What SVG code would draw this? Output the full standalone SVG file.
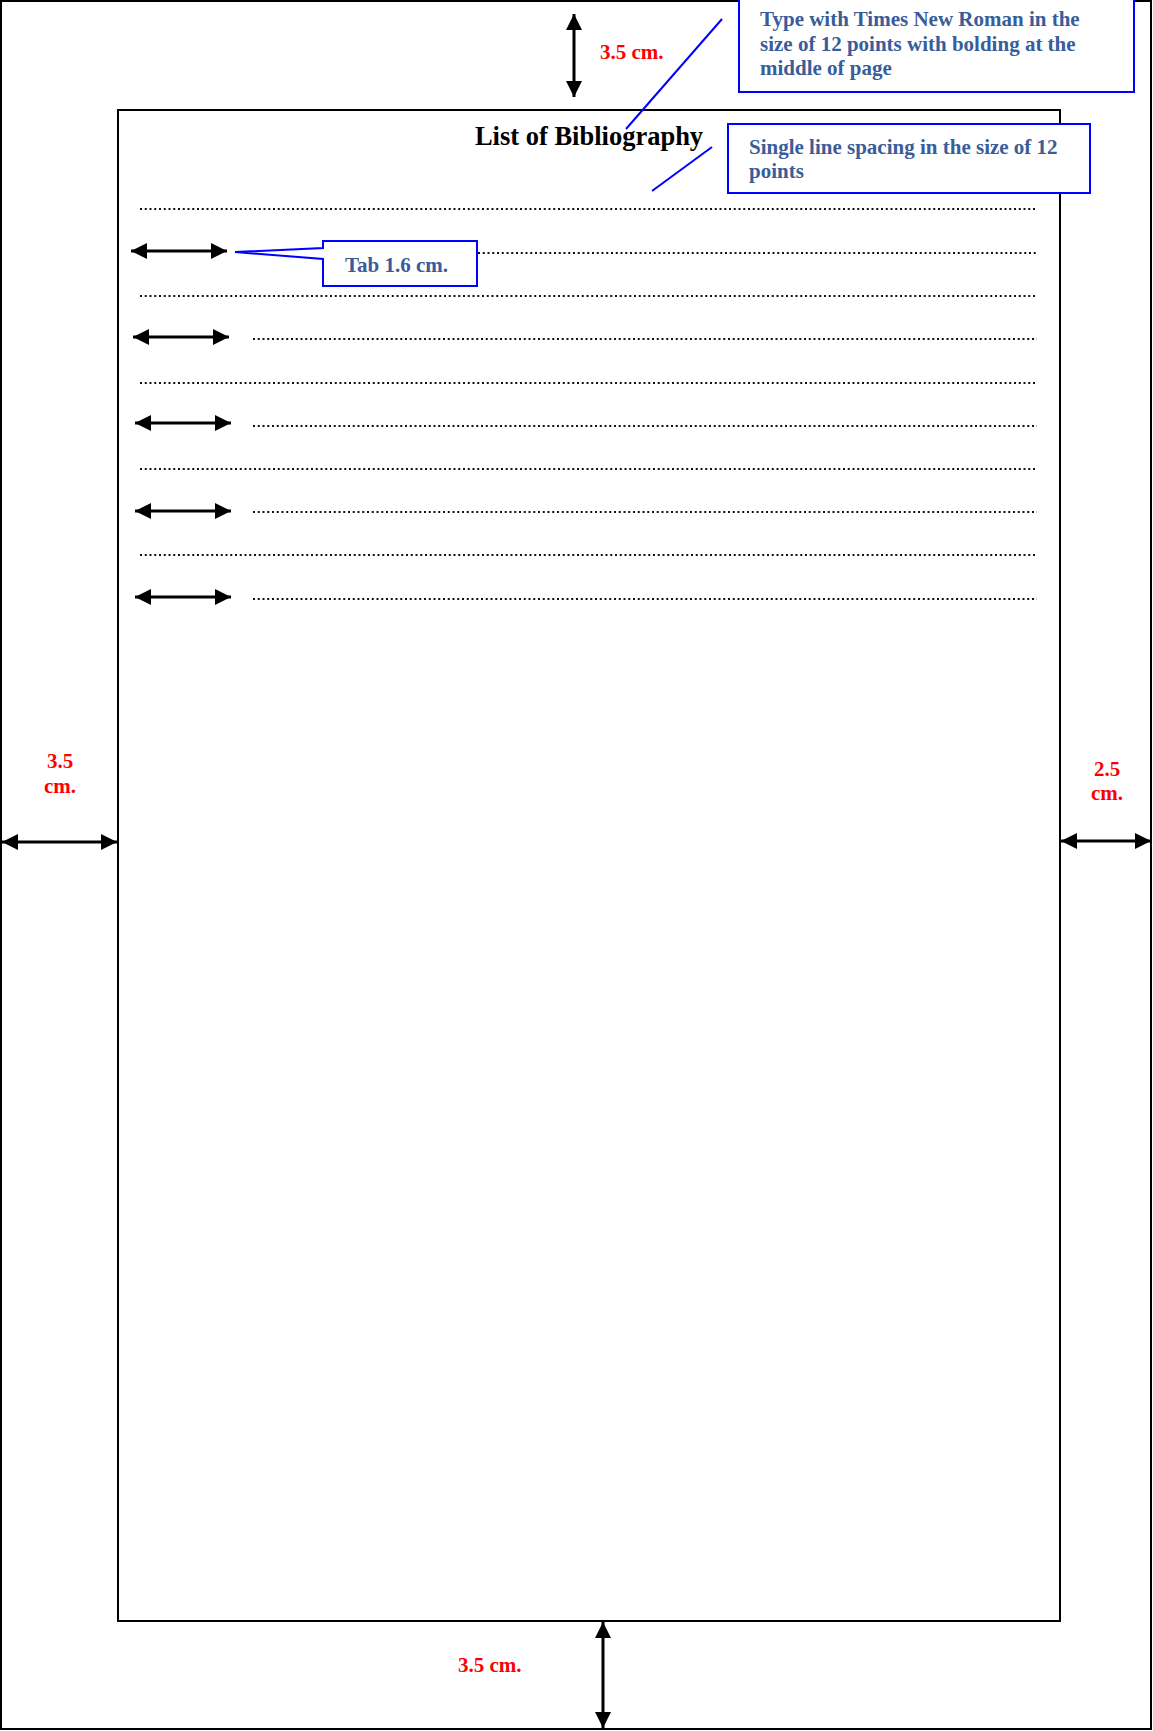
<svg xmlns="http://www.w3.org/2000/svg" width="1153" height="1731" viewBox="0 0 1153 1731">
<style>
.page{fill:none;stroke:#000;stroke-width:2}
.dots{stroke:#111;stroke-width:2.2;stroke-dasharray:2 2.75}
.arr{stroke:#000;stroke-width:3;marker-start:url(#ah);marker-end:url(#ah)}
.note{fill:#fff;stroke:#0000ff;stroke-width:2}
.lead{stroke:#0000ff;stroke-width:2;fill:none}
.nt{font-family:"Liberation Serif","Times New Roman",serif;font-weight:bold;font-size:21px;fill:#385d9a}
.red{font-family:"Liberation Serif","Times New Roman",serif;font-weight:bold;font-size:21px;fill:#ff0000}
.title{font-family:"Liberation Serif","Times New Roman",serif;font-weight:bold;font-size:26.5px;fill:#000}
</style>
<defs>
<marker id="ah" viewBox="0 0 16 16" refX="16" refY="8" markerWidth="16" markerHeight="16" markerUnits="userSpaceOnUse" orient="auto-start-reverse">
<path d="M0,0 L16,8 L0,16 z" fill="#000"/>
</marker>
</defs>
<rect width="1153" height="1731" fill="#fff"/>
<g id="outer-page"><rect class="page" x="1" y="1" width="1150" height="1728"/></g>
<g id="text-area"><rect class="page" x="118" y="110" width="942" height="1511"/></g>
<g id="title"><text class="title" x="589" y="145" text-anchor="middle">List of Bibliography</text></g>
<g id="dotted-lines">
<line class="dots" x1="140" y1="209" x2="1035" y2="209"/>
<line class="dots" x1="478" y1="253" x2="1037" y2="253"/>
<line class="dots" x1="140" y1="296" x2="1035" y2="296"/>
<line class="dots" x1="253" y1="339" x2="1037" y2="339"/>
<line class="dots" x1="140" y1="383" x2="1035" y2="383"/>
<line class="dots" x1="253" y1="426" x2="1037" y2="426"/>
<line class="dots" x1="140" y1="469" x2="1035" y2="469"/>
<line class="dots" x1="253" y1="512" x2="1037" y2="512"/>
<line class="dots" x1="140" y1="555" x2="1035" y2="555"/>
<line class="dots" x1="253" y1="599" x2="1037" y2="599"/>
</g>
<g id="connectors">
<line class="arr" x1="131" y1="251" x2="227" y2="251"/>
<line class="arr" x1="133" y1="337" x2="229" y2="337"/>
<line class="arr" x1="135" y1="423" x2="231" y2="423"/>
<line class="arr" x1="135" y1="511" x2="231" y2="511"/>
<line class="arr" x1="135" y1="597" x2="231" y2="597"/>
<line class="arr" x1="574" y1="14" x2="574" y2="97"/>
<line class="arr" x1="2" y1="842" x2="117" y2="842"/>
<line class="arr" x1="1061" y1="841" x2="1151" y2="841"/>
<line class="arr" x1="603" y1="1622" x2="603" y2="1728"/>
<line class="lead" x1="722" y1="19" x2="626" y2="129"/>
<line class="lead" x1="712" y1="147" x2="652" y2="191"/>
</g>
<g id="note-font">
<rect class="note" x="739" y="-2" width="395" height="94"/>
<text class="nt" x="760" y="26">Type with Times New Roman in the</text>
<text class="nt" x="760" y="51">size of 12 points with bolding at the</text>
<text class="nt" x="760" y="75">middle of page</text>
</g>
<g id="note-spacing">
<rect class="note" x="728" y="124" width="362" height="69"/>
<text class="nt" x="749" y="154">Single line spacing in the size of 12</text>
<text class="nt" x="749" y="178">points</text>
</g>
<g id="note-tab">
<path class="note" d="M323,241 L477,241 L477,286 L323,286 L323,259 L235,252 L323,248 Z"/>
<text class="nt" x="345" y="272">Tab 1.6 cm.</text>
</g>
<g id="margin-top"><text class="red" x="600" y="59">3.5 cm.</text></g>
<g id="margin-left"><text class="red" x="60" y="768" text-anchor="middle">3.5</text><text class="red" x="60" y="793" text-anchor="middle">cm.</text></g>
<g id="margin-right"><text class="red" x="1107" y="776" text-anchor="middle">2.5</text><text class="red" x="1107" y="800" text-anchor="middle">cm.</text></g>
<g id="margin-bottom"><text class="red" x="458" y="1672">3.5 cm.</text></g>
</svg>
